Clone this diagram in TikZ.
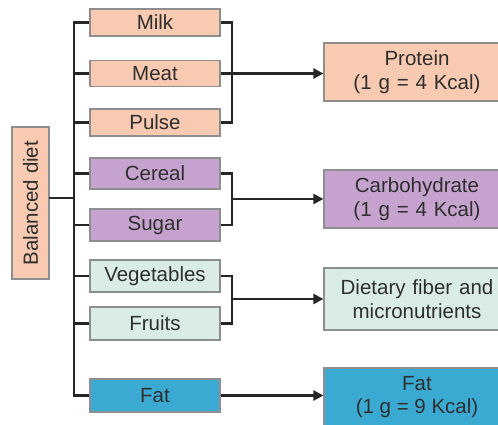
\documentclass[tikz,border=0pt]{standalone}
\usepackage{fontspec}
\setmainfont{Liberation Sans}
\usetikzlibrary{arrows.meta}
\definecolor{salmon}{HTML}{F8CAB1}
\definecolor{lilac}{HTML}{C6A3CF}
\definecolor{mint}{HTML}{DAEDE5}
\definecolor{skyb}{HTML}{3AAAD2}
\definecolor{bordergrey}{HTML}{8E8E8E}
\definecolor{txt}{HTML}{2E2E2E}
\tikzset{
  box/.style={draw=bordergrey, line width=1.2pt, rectangle, inner sep=0pt, text=txt,
    font=\fontsize{20.5}{23.5}\selectfont, align=center},
  food/.style={box, minimum width=130pt},
  nutr/.style={box, minimum width=186pt, text width=186pt},
  conn/.style={line width=2.4pt, draw=black!85},
  arr/.style={conn, -{Triangle[length=10pt,width=10pt]}},
}
\begin{document}
\begin{tikzpicture}[x=1pt,y=-1pt]
\useasboundingbox (0,0) rectangle (498,425);
\clip (0,0) rectangle (498,425);
% left column
\node[food, fill=salmon, minimum height=27pt] (milk) at (155,22.5) {Milk};
\node[food, fill=salmon, minimum height=26pt] (meat) at (155,73.5) {Meat};
\node[food, fill=salmon, minimum height=27pt] (pulse) at (155,122.5) {Pulse};
\node[food, fill=lilac, minimum height=31pt] (cereal) at (155,173.5) {Cereal};
\node[food, fill=lilac, minimum height=32pt] (sugar) at (155,225) {Sugar};
\node[food, fill=mint, minimum height=32pt] (veg) at (155,276) {Vegetables};
\node[food, fill=mint, minimum height=33pt] (fruits) at (155,323.5) {Fruits};
\node[food, fill=skyb, minimum height=33pt] (fat) at (155,395.5) {Fat};
% balanced diet
\node[box, fill=salmon, minimum width=152pt, minimum height=37pt, rotate=90] (bd) at (30.5,203) {Balanced diet};
% right column
\node[nutr, fill=salmon, minimum height=58pt] (protein) at (417,72) {Protein\\(1 g = 4 Kcal)};
\node[nutr, fill=lilac, minimum height=58pt] (carbo) at (417,199) {Carbohydrate\\(1 g = 4 Kcal)};
\node[nutr, fill=mint, minimum height=62pt] (fiber) at (417,299) {Dietary fiber and\\micronutrients};
\node[nutr, fill=skyb, minimum height=64pt] (fatn) at (417,400) {};
\node[text=txt, font=\fontsize{20.5}{23.5}\selectfont, align=center] (fatt) at (417,397) {Fat\\(1 g = 9 Kcal)};
% trunk
\coordinate (t1) at (74,22.5);
\draw[conn] (milk.west) -- (t1) |- (fat.west);
\foreach \n in {meat,pulse,cereal,sugar,veg,fruits}
  \draw[conn] (\n.west) -- (\n.west -| t1);
\draw[conn] ([xshift=-0.6pt,yshift=5pt]bd.south) -- ([yshift=5pt]bd.south -| t1);
% right brackets
\coordinate (r1) at (232,22.5);
\draw[conn] (milk.east) -- (r1) |- (pulse.east);
\draw[arr] (meat.east) -- (meat.east -| protein.west);
\coordinate (r2) at (232,173.5);
\draw[conn] (cereal.east) -- (r2) |- (sugar.east);
\draw[arr] (r2 |- carbo.west) -- (carbo.west);
\coordinate (r3) at (232,276);
\draw[conn] (veg.east) -- (r3) |- (fruits.east);
\draw[arr] (r3 |- fiber.west) -- (fiber.west);
\draw[arr] (fat.east) -- (fat.east -| fatn.west);
\end{tikzpicture}
\end{document}
